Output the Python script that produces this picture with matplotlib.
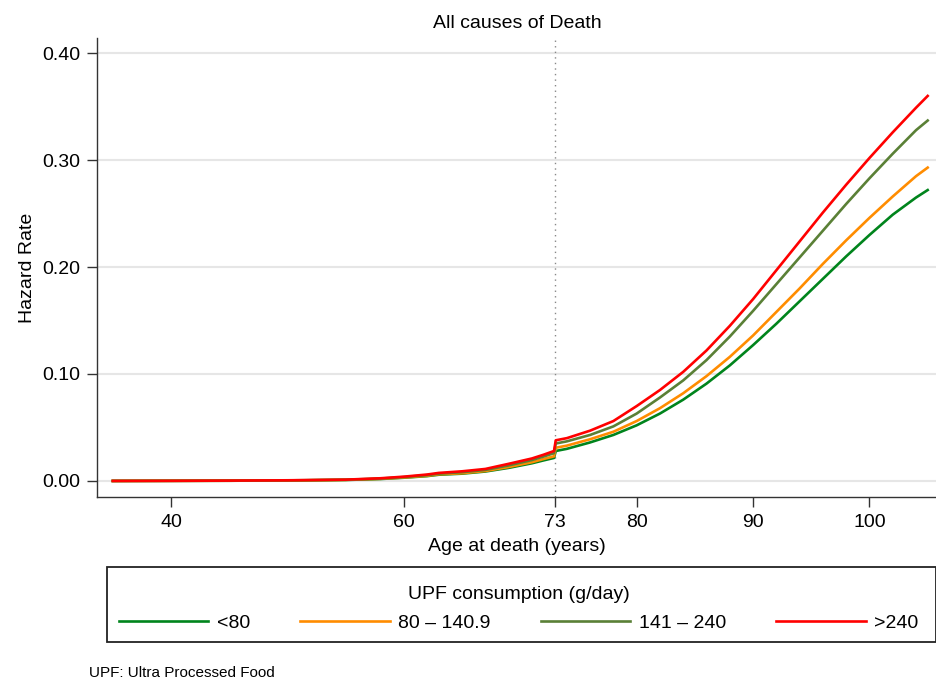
import matplotlib
matplotlib.use("Agg")
import matplotlib.pyplot as plt
from matplotlib.patches import Rectangle

plt.rcParams['font.family'] = ['Liberation Sans', 'DejaVu Sans']

# age grid (the hazard jumps at age 73)
ages = [35, 40, 45, 50, 55, 58, 60, 62, 63, 65, 67, 69, 71, 72, 72.9,
        73.05, 74, 76, 78, 80, 82, 84, 86, 88, 90, 92, 94, 96, 98, 100, 102, 104, 105]

haz_lt80 = [0.0, 0.0001, 0.0002, 0.0004, 0.0009, 0.0018, 0.003, 0.0045, 0.0058, 0.0068, 0.0088,
            0.0122, 0.0165, 0.0192, 0.0215,
            0.028, 0.030, 0.036, 0.043, 0.052, 0.063, 0.076, 0.091, 0.108, 0.127, 0.147,
            0.168, 0.189, 0.210, 0.230, 0.249, 0.265, 0.272]
haz_80_141 = [0.0, 0.0001, 0.0002, 0.0004, 0.001, 0.002, 0.0032, 0.0048, 0.0062, 0.0072, 0.0093,
              0.013, 0.0175, 0.0205, 0.023,
              0.031, 0.033, 0.039, 0.046, 0.056, 0.068, 0.082, 0.098, 0.116, 0.136, 0.158,
              0.180, 0.203, 0.225, 0.246, 0.266, 0.285, 0.293]
haz_141_240 = [0.0, 0.0001, 0.0002, 0.0005, 0.0011, 0.0022, 0.0036, 0.0054, 0.0068, 0.0082, 0.0103,
               0.0145, 0.0195, 0.0228, 0.026,
               0.035, 0.037, 0.043, 0.051, 0.063, 0.078, 0.094, 0.113, 0.135, 0.159, 0.184,
               0.209, 0.234, 0.259, 0.283, 0.306, 0.328, 0.337]
haz_gt240 = [0.0, 0.0001, 0.0003, 0.0006, 0.0012, 0.0025, 0.004, 0.006, 0.0075, 0.009, 0.0112,
             0.016, 0.021, 0.0245, 0.028,
             0.038, 0.040, 0.047, 0.056, 0.070, 0.085, 0.102, 0.122, 0.145, 0.170, 0.197,
             0.224, 0.251, 0.277, 0.302, 0.326, 0.349, 0.360]

labels = ['<80', '80 \u2013 140.9', '141 \u2013 240', '>240']
colors = ['#00841c', '#ff8c00', '#5a8036', '#ff0000']
series = [haz_lt80, haz_80_141, haz_141_240, haz_gt240]

xticks = [40, 60, 73, 80, 90, 100]
yticks = [0.0, 0.1, 0.2, 0.3, 0.4]

fig = plt.figure(figsize=(9.37, 6.82), dpi=100)
ax = fig.add_axes([0.1035, 0.2713, 0.8965, 0.6727])

for y in yticks:
    ax.axhline(y, color='#e6e6e6', lw=1.5, zorder=0)
ax.axvline(73, color='#888888', lw=1.0, ls=(0, (1, 3)), zorder=1)

for vals, c, lab in zip(series, colors, labels):
    ax.plot(ages, vals, color=c, lw=1.9, label=lab, zorder=3)

ax.set_xlim(33.64, 105.8)
ax.set_ylim(-0.015, 0.414)
ax.set_xticks(xticks)
ax.set_yticks(yticks)
ax.set_yticklabels(['%.2f' % v for v in yticks])
ax.tick_params(length=7.2, width=1.0, labelsize=14, pad=5, colors='#333333', labelcolor='black')

for side in ['top', 'right']:
    ax.spines[side].set_visible(False)
for side in ['left', 'bottom']:
    ax.spines[side].set_linewidth(1.0)
    ax.spines[side].set_color('#333333')

ax.set_title('All causes of Death', fontsize=14, pad=7)
ax.set_ylabel('Hazard Rate', fontsize=14, labelpad=4)
ax.set_xlabel('Age at death (years)', fontsize=14, labelpad=5)

# legend box drawn separately, entries spread across it
fig.add_artist(Rectangle((107 / 937, 1 - 642 / 682), 829 / 937, 75 / 682,
                         transform=fig.transFigure, fill=False, lw=1.3, ec='#222222'))
leg = fig.legend(loc='upper left', bbox_to_anchor=(0.112, 1 - 631 / 682, 0.883, 59 / 682),
                 mode='expand', ncol=4,
                 title='UPF consumption (g/day)', fontsize=14, title_fontsize=14,
                 handlelength=4.6, handletextpad=0.45, columnspacing=2.0,
                 frameon=False, borderpad=0.2, labelspacing=0.6)

fig.text(0.095, 0.003, 'UPF: Ultra Processed Food', fontsize=11, ha='left', va='bottom')

fig.savefig('out.png', dpi=100)
